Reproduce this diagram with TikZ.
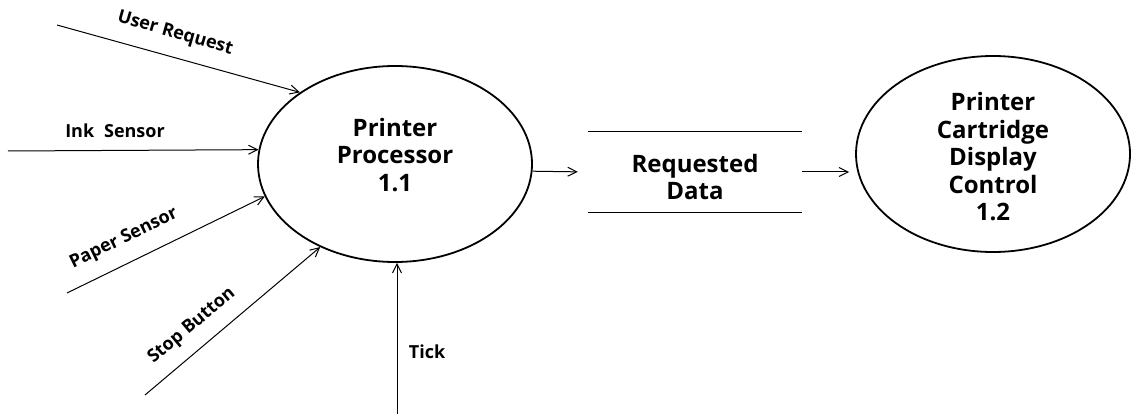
\documentclass[tikz,border=0pt]{standalone}
\usepackage{fontspec}
\setmainfont{Open Sans}
\usetikzlibrary{shapes.geometric,arrows.meta}
\begin{document}
\begin{tikzpicture}[x=1pt,y=-1pt,
  proc/.style={draw, line width=1.8pt, ellipse, minimum width=274pt, minimum height=196pt, inner sep=0pt},
  ptext/.style={font=\fontsize{24}{27.5}\selectfont\bfseries, align=center},
  lbl/.style={font=\fontsize{18}{20}\selectfont\bfseries, inner sep=1pt},
  arr/.style={line width=1pt, -{Straight Barb[length=9pt,width=9pt,line width=1pt]}},
  storeline/.style={line width=1pt}]
\useasboundingbox (0,0) rectangle (1131,414);
\node[proc] (p1) at (395,164) {};
\node[ptext] (t1) at (395,155) {Printer\\Processor\\1.1};
\node[proc] (p2) at (993,154) {};
\node[ptext] (t2) at (993,157) {Printer\\Cartridge\\Display\\Control\\1.2};
\node[minimum width=214pt, minimum height=80pt, inner sep=0pt] (store) at (695,172) {};
\node[ptext] (st) at (695,177) {Requested\\Data};
\draw[storeline] (store.north west) -- (store.north east);
\draw[storeline] (store.south west) -- (store.south east);
% inputs
\coordinate (u0) at (57,25);
\coordinate (i0) at (8,151);
\coordinate (ps0) at (67,293);
\coordinate (sb0) at (145,395);
\coordinate (tk0) at (397,414);
\draw[arr] (u0) -- (p1.143);
\draw[arr] (i0) -- (p1.174);
\draw[arr] (ps0) -- (p1.194.5);
\draw[arr] (sb0) -- (p1.228.5);
\draw[arr] (tk0) -- (tk0 |- p1.south);
\draw[arr, shorten >=10pt] (p1.-3) -- (store.west);
\draw[arr, shorten >=6pt] (store.east) -- (store.east -| p2.west);
% labels
\node[lbl, rotate=-16] (lu) at (175,34) {User Request};
\node[lbl] (li) at (115,131) {Ink\hspace{0.55em}Sensor};
\node[lbl, rotate=26] (lp) at (124,239) {Paper Sensor};
\node[lbl, rotate=40] (ls) at (192,326) {Stop Button};
\node[lbl] (lt) at (427,352) {Tick};
\end{tikzpicture}
\end{document}
